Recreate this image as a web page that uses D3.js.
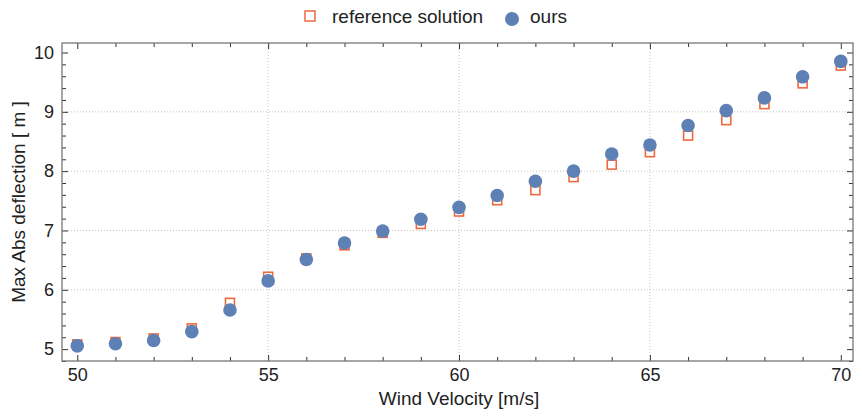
<!DOCTYPE html>
<html>
<head>
<meta charset="utf-8">
<script src="https://cdn.jsdelivr.net/npm/d3@7"></script>
<style>
  body { margin: 0; background: #fff; }
  text { font-family: "Liberation Sans", Arial, sans-serif; fill: #222; }
</style>
</head>
<body>
<div id="chart"></div>
<script>
// wind velocities [m/s]
var velocity = [50, 51, 52, 53, 54, 55, 56, 57, 58, 59, 60, 61, 62, 63, 64, 65, 66, 67, 68, 69, 70];
// reference solution (squares)
var reference = [5.08, 5.12, 5.18, 5.35, 5.78, 6.22, 6.53, 6.75, 6.96, 7.11, 7.32, 7.51, 7.68, 7.9, 8.11,
  8.32, 8.6, 8.86, 9.13, 9.48, 9.78];
// ours (circles)
var ours = [5.055, 5.09, 5.145, 5.295, 5.66, 6.15, 6.51, 6.79, 6.99, 7.19, 7.39, 7.59, 7.83, 8.0, 8.29,
  8.44, 8.77, 9.02, 9.235, 9.59, 9.85];
var xTicks = [50, 55, 60, 65, 70];
var yTicks = [5, 6, 7, 8, 9, 10];
var seriesNames = ["reference solution", "ours"];

var W = 854, H = 411;
var margin = { top: 43, right: 1, bottom: 50, left: 62 },
  width = W - margin.left - margin.right,
  height = H - margin.top - margin.bottom;

var squareColor = "#ee6a3e";
var circleColor = "#5e81b5";

var svg = d3
  .select("#chart")
  .append("svg")
  .attr("width", W)
  .attr("height", H);

var g = svg
  .append("g")
  .attr("transform", "translate(" + margin.left + "," + margin.top + ")");

var x = d3.scaleLinear().domain([49.6, 70.32]).range([0, width]);
var y = d3.scaleLinear().domain([4.8, 10.16]).range([height, 0]);

// grid lines (interior major ticks only)
g.append("g")
  .selectAll("line")
  .data(xTicks.slice(1, -1))
  .enter()
  .append("line")
  .attr("x1", (d) => x(d))
  .attr("x2", (d) => x(d))
  .attr("y1", 0)
  .attr("y2", height)
  .attr("stroke", "#c4c4c4")
  .attr("stroke-dasharray", "1,2");

g.append("g")
  .selectAll("line")
  .data(yTicks.slice(1, -1))
  .enter()
  .append("line")
  .attr("x1", 0)
  .attr("x2", width)
  .attr("y1", (d) => y(d))
  .attr("y2", (d) => y(d))
  .attr("stroke", "#c4c4c4")
  .attr("stroke-dasharray", "1,2");

// minor tick values
var xMinor = d3.range(50, 71, 1).filter((d) => xTicks.indexOf(d) < 0);
var yMinor = d3.range(4.8, 10.15, 0.2).map((d) => Math.round(d * 10) / 10)
  .filter((d) => yTicks.indexOf(d) < 0);

function styleAxis(sel) {
  sel.select(".domain").remove();
  sel.selectAll(".tick line").attr("stroke", "#333");
  sel.selectAll(".tick text").style("font-size", "18px").attr("fill", "#222");
}

// bottom axis
g.append("g")
  .attr("transform", "translate(0," + height + ")")
  .call(d3.axisBottom(x).tickValues(xTicks).tickSize(-6).tickPadding(7).tickFormat(d3.format("d")))
  .call(styleAxis);
g.append("g")
  .attr("transform", "translate(0," + height + ")")
  .call(d3.axisBottom(x).tickValues(xMinor).tickSize(-4).tickFormat(""))
  .call(styleAxis);
// top mirror
g.append("g")
  .call(d3.axisTop(x).tickValues(xTicks).tickSize(-6).tickFormat(""))
  .call(styleAxis);
g.append("g")
  .call(d3.axisTop(x).tickValues(xMinor).tickSize(-4).tickFormat(""))
  .call(styleAxis);

// left axis
g.append("g")
  .call(d3.axisLeft(y).tickValues(yTicks).tickSize(-6).tickPadding(8).tickFormat(d3.format("d")))
  .call(styleAxis);
g.append("g")
  .call(d3.axisLeft(y).tickValues(yMinor).tickSize(-4).tickFormat(""))
  .call(styleAxis);
// right mirror
g.append("g")
  .attr("transform", "translate(" + width + ",0)")
  .call(d3.axisRight(y).tickValues(yTicks).tickSize(-6).tickFormat(""))
  .call(styleAxis);
g.append("g")
  .attr("transform", "translate(" + width + ",0)")
  .call(d3.axisRight(y).tickValues(yMinor).tickSize(-4).tickFormat(""))
  .call(styleAxis);

// frame
g.append("rect")
  .attr("x", 0)
  .attr("y", 0)
  .attr("width", width)
  .attr("height", height)
  .attr("fill", "none")
  .attr("stroke", "#777")
  .attr("stroke-width", 1.3);

// reference squares
var s = 9;
g.append("g")
  .selectAll("rect")
  .data(velocity)
  .enter()
  .append("rect")
  .attr("x", (d) => x(d) - s / 2)
  .attr("y", (d, i) => y(reference[i]) - s / 2)
  .attr("width", s)
  .attr("height", s)
  .attr("fill", "#fff")
  .attr("stroke", squareColor)
  .attr("stroke-width", 1.6);

// our circles
g.append("g")
  .selectAll("circle")
  .data(velocity)
  .enter()
  .append("circle")
  .attr("cx", (d) => x(d))
  .attr("cy", (d, i) => y(ours[i]))
  .attr("r", 6.8)
  .attr("fill", circleColor);

// axis labels
svg
  .append("text")
  .attr("text-anchor", "middle")
  .attr("x", margin.left + x(60))
  .attr("y", 405)
  .style("font-size", "19px")
  .text("Wind Velocity [m/s]");

svg
  .append("text")
  .attr("text-anchor", "middle")
  .attr("transform", "translate(25," + (margin.top + height / 2) + ") rotate(-90)")
  .style("font-size", "19px")
  .text("Max Abs deflection [ m ]");

// legend
var legend = svg.append("g").attr("transform", "translate(0,16)");
legend
  .append("rect")
  .attr("x", 305)
  .attr("y", -5)
  .attr("width", 10)
  .attr("height", 10)
  .attr("fill", "#fff")
  .attr("stroke", squareColor)
  .attr("stroke-width", 1.5);
legend
  .append("text")
  .attr("x", 332)
  .attr("y", 7)
  .style("font-size", "19px")
  .text(seriesNames[0]);
legend
  .append("circle")
  .attr("cx", 512)
  .attr("cy", 3)
  .attr("r", 7)
  .attr("fill", circleColor);
legend
  .append("text")
  .attr("x", 530)
  .attr("y", 7)
  .style("font-size", "19px")
  .text(seriesNames[1]);
</script>
</body>
</html>
